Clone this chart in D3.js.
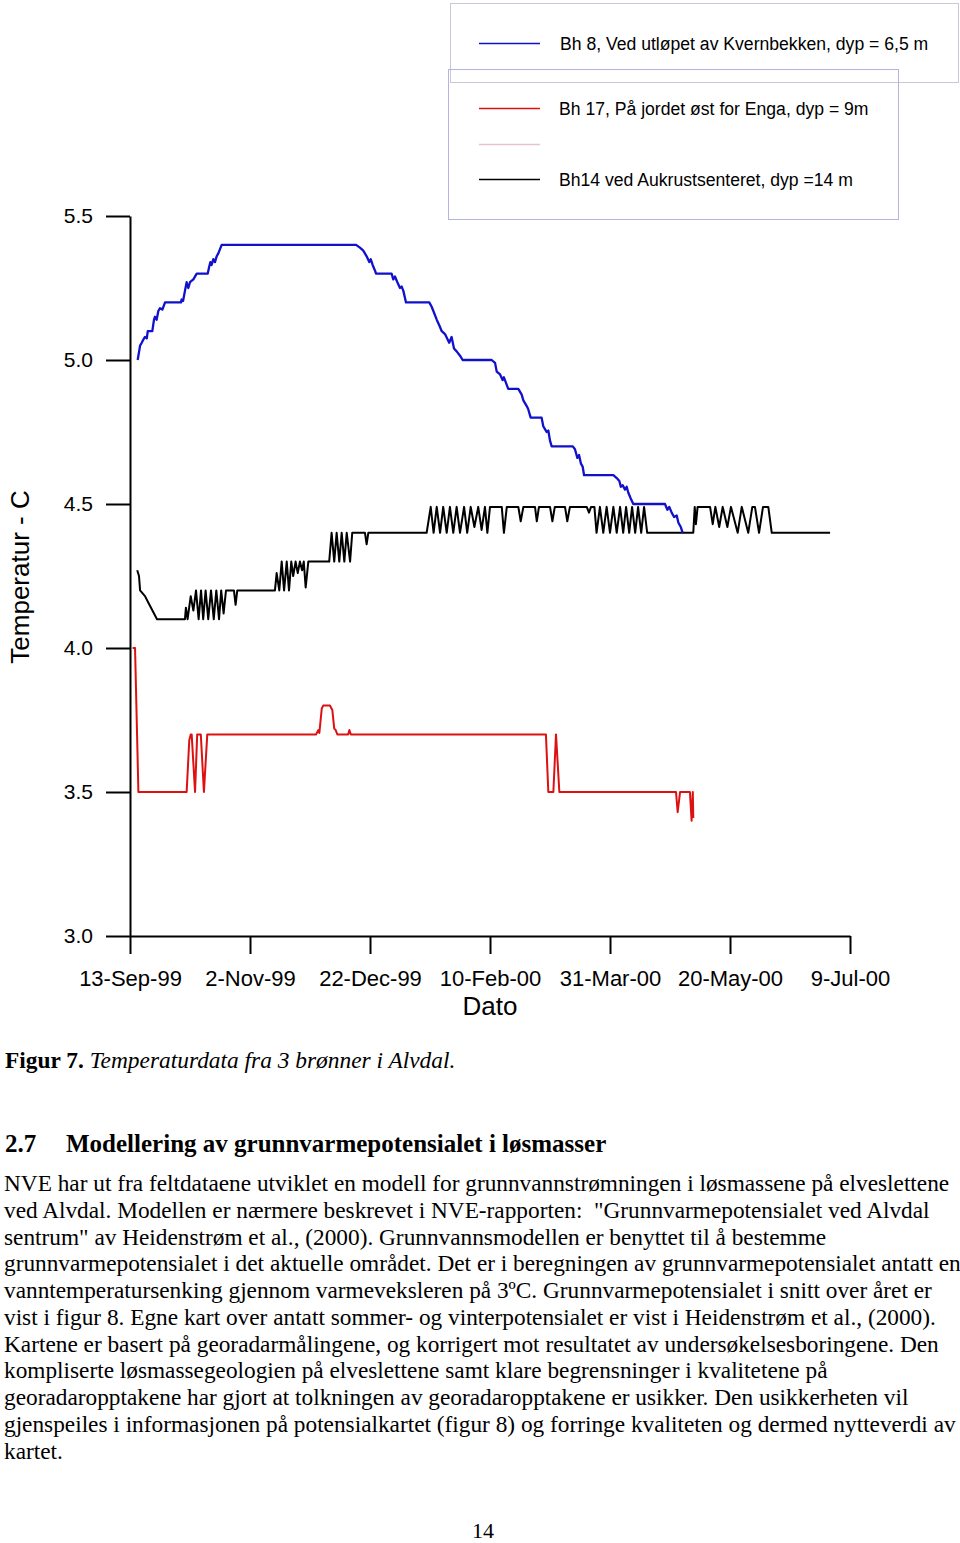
<!DOCTYPE html>
<html>
<head>
<meta charset="utf-8">
<script src="https://cdn.jsdelivr.net/npm/d3@7"></script>
<style>
  html, body { margin: 0; padding: 0; background: #fff; }
  svg { display: block; }
</style>
</head>
<body>
<svg id="chart" width="960" height="1543"></svg>
<script>
// ---------- DATA (day offset from 13-Sep-1999, temperature °C) ----------
const startDate = "1999-09-13";
const tickDates = ["1999-09-13", "1999-11-02", "1999-12-22", "2000-02-10", "2000-03-31", "2000-05-20", "2000-07-09"];
const yTicks = [3.0, 3.5, 4.0, 4.5, 5.0, 5.5];

const seriesNames = [
  "Bh 8, Ved utløpet av Kvernbekken, dyp = 6,5 m",
  "Bh 17, På jordet øst for Enga, dyp = 9m",
  "",
  "Bh14 ved Aukrustsenteret, dyp =14 m"
];

const bh8Days = [3.2,4.2,4.9,5.5,6.25,7.0,7.4,9.3,10.0,10.4,11.1,11.8,12.5,13.5,14.6,21.25,21.5,22.1,22.9,23.6,24.3,25.0,26.4,27.8,32.4,32.9,33.5,34.0,34.7,35.4,36.1,36.8,38.2,
  94.2,95.8,97.2,98.6,99.7,100.3,101.1,102.1,102.5,109.0,109.7,110.4,111.4,112.5,113.2,113.9,115.0,124.7,125.7,126.4,127.8,128.9,129.9,131.25,133.0,134.0,135.0,136.1,137.5,138.6,
  150.7,152.1,152.8,154.2,155.3,155.8,156.7,157.6,161.8,163.2,163.9,165.3,165.9,166.95,171.5,172.2,172.9,173.6,174.3,175.0,175.7,184.5,185.4,186.4,187.1,187.9,188.6,189.2,
  201.4,202.8,203.9,204.5,205.3,206.25,206.95,207.6,208.6,209.7,222.9,223.9,224.7,225.7,226.7,227.8,228.5,229.5,230.3];
const bh8Temp = [5.00,5.05,5.06,5.07,5.08,5.075,5.10,5.10,5.14,5.15,5.14,5.17,5.18,5.175,5.20,5.20,5.21,5.205,5.24,5.27,5.25,5.27,5.28,5.30,5.30,5.32,5.34,5.33,5.35,5.34,5.36,5.37,5.40,
  5.40,5.39,5.38,5.36,5.34,5.35,5.33,5.31,5.30,5.30,5.28,5.29,5.27,5.25,5.255,5.24,5.20,5.20,5.185,5.17,5.14,5.12,5.10,5.09,5.06,5.08,5.04,5.03,5.015,5.00,
  5.00,4.99,4.96,4.95,4.93,4.94,4.92,4.90,4.90,4.88,4.86,4.84,4.83,4.80,4.80,4.77,4.76,4.75,4.755,4.72,4.70,4.70,4.69,4.66,4.67,4.64,4.63,4.60,
  4.60,4.59,4.58,4.56,4.565,4.55,4.56,4.54,4.52,4.50,4.50,4.48,4.49,4.47,4.455,4.46,4.435,4.42,4.40];

const bh17Days = [1.1,2.1,3.5,23.6,24.7,25.3,25.7,27.1,28.0,29.5,30.8,32.2,77.5,78.5,78.9,79.9,80.5,83.3,84.3,85.1,85.7,86.4,90.9,91.4,92.0,
  173.3,174.3,176.4,177.5,178.9,227.5,228.2,229.2,233.3,234.0,234.5,234.7];
const bh17Temp = [4.00,4.00,3.50,3.50,3.68,3.70,3.70,3.50,3.70,3.70,3.50,3.70,3.70,3.715,3.705,3.79,3.80,3.80,3.785,3.72,3.715,3.70,3.70,3.715,3.70,
  3.70,3.50,3.50,3.70,3.50,3.50,3.43,3.50,3.50,3.40,3.50,3.41];

const bh14Days = [3.0,3.75,4.2,6.25,7.5,8.75,10.0,11.25,22.9,23.3,24.0,25.3,26.4,27.5,28.6,29.6,30.5,31.5,32.6,33.75,34.9,35.96,37.1,38.0,39.0,40.0,43.3,44.0,44.7,
  60.4,61.1,62.2,63.2,64.2,65.3,66.25,67.2,68.0,69.0,69.9,70.8,71.7,72.4,73.2,74.3,83.0,84.0,85.1,86.1,87.2,88.2,89.3,90.3,91.7,92.6,97.9,98.6,99.3,
  123.6,125.3,126.5,127.8,129.2,130.5,131.96,133.3,134.7,136.1,137.5,139.2,140.5,141.96,143.5,145.1,146.5,147.9,148.9,150.0,154.9,155.8,157.0,161.8,162.8,163.9,
  168.75,169.5,170.4,175.0,176.0,177.0,181.25,182.2,183.3,190.3,191.25,192.1,193.5,194.4,195.8,197.2,198.6,200.0,201.4,202.8,204.2,205.5,206.7,208.0,209.2,210.5,211.7,213.0,214.2,215.5,
  234.7,235.3,235.8,236.5,241.7,242.8,243.9,245.5,246.96,248.9,250.4,253.2,254.9,257.6,259.3,260.4,262.1,263.75,265.96,267.4,291.7];
const bh14Temp = [4.27,4.25,4.20,4.18,4.16,4.14,4.12,4.10,4.10,4.14,4.10,4.18,4.13,4.20,4.10,4.20,4.10,4.20,4.10,4.20,4.10,4.20,4.10,4.20,4.12,4.20,4.20,4.15,4.20,
  4.20,4.26,4.20,4.30,4.20,4.30,4.20,4.30,4.25,4.30,4.26,4.30,4.27,4.30,4.21,4.30,4.30,4.40,4.30,4.40,4.30,4.40,4.30,4.40,4.30,4.40,4.40,4.36,4.40,
  4.40,4.49,4.40,4.49,4.40,4.49,4.40,4.49,4.40,4.49,4.40,4.49,4.40,4.49,4.42,4.49,4.41,4.49,4.40,4.49,4.49,4.40,4.49,4.49,4.44,4.49,
  4.49,4.44,4.49,4.49,4.44,4.49,4.49,4.44,4.49,4.49,4.47,4.49,4.49,4.40,4.49,4.40,4.49,4.40,4.49,4.40,4.49,4.40,4.49,4.40,4.49,4.40,4.49,4.40,4.49,4.40,
  4.40,4.49,4.43,4.49,4.49,4.43,4.49,4.42,4.49,4.42,4.49,4.40,4.49,4.40,4.49,4.49,4.40,4.49,4.49,4.40,4.40];

const captionBold = "Figur 7.";
const captionItalic = "Temperaturdata fra 3 brønner i Alvdal.";
const headingNum = "2.7";
const headingText = "Modellering av grunnvarmepotensialet i løsmasser";
const bodyLines = [
  "NVE har ut fra feltdataene utviklet en modell for grunnvannstrømningen i løsmassene på elveslettene",
  "ved Alvdal. Modellen er nærmere beskrevet i NVE-rapporten:  \"Grunnvarmepotensialet ved Alvdal",
  "sentrum\" av Heidenstrøm et al., (2000). Grunnvannsmodellen er benyttet til å bestemme",
  "grunnvarmepotensialet i det aktuelle området. Det er i beregningen av grunnvarmepotensialet antatt en",
  "vanntemperatursenking gjennom varmeveksleren på 3ºC. Grunnvarmepotensialet i snitt over året er",
  "vist i figur 8. Egne kart over antatt sommer- og vinterpotensialet er vist i Heidenstrøm et al., (2000).",
  "Kartene er basert på georadarmålingene, og korrigert mot resultatet av undersøkelsesboringene. Den",
  "kompliserte løsmassegeologien på elveslettene samt klare begrensninger i kvalitetene på",
  "georadaropptakene har gjort at tolkningen av georadaropptakene er usikker. Den usikkerheten vil",
  "gjenspeiles i informasjonen på potensialkartet (figur 8) og forringe kvaliteten og dermed nytteverdi av",
  "kartet."
];
const pageNumber = "14";

// ---------- DRAWING ----------
const svg = d3.select("#chart");
const parse = d3.utcParse("%Y-%m-%d");
const t0 = parse(startDate);
const toDate = d => new Date(t0.getTime() + d * 864e5);

const x = d3.scaleUtc().domain([parse(tickDates[0]), parse(tickDates[tickDates.length - 1])]).range([130, 850]);
const y = d3.scaleLinear().domain([3.0, 5.5]).range([936, 216]);

const sans = "'Liberation Sans', Arial, sans-serif";
const serif = "'Liberation Serif', 'Times New Roman', serif";

// Y axis
const yAxis = svg.append("g").attr("transform", "translate(130,0)")
  .call(d3.axisLeft(y).tickValues(yTicks).tickFormat(d3.format(".1f")).tickSize(24).tickPadding(13).tickSizeOuter(0));
yAxis.select(".domain").attr("stroke", "#000").attr("stroke-width", 2);
yAxis.selectAll(".tick line").attr("stroke", "#000").attr("stroke-width", 2);
yAxis.selectAll(".tick text").attr("font-family", sans).attr("font-size", 21).attr("fill", "#000");

// X axis
const xAxis = svg.append("g").attr("transform", "translate(0,936)")
  .call(d3.axisBottom(x).tickValues(tickDates.map(parse)).tickFormat(d3.utcFormat("%-d-%b-%y")).tickSize(18).tickPadding(16).tickSizeOuter(0));
xAxis.select(".domain").attr("stroke", "#000").attr("stroke-width", 2);
xAxis.selectAll(".tick line").attr("stroke", "#000").attr("stroke-width", 2);
xAxis.selectAll(".tick text").attr("font-family", sans).attr("font-size", 22).attr("fill", "#000");

// Axis titles
svg.append("text").attr("x", 490).attr("y", 1015).attr("text-anchor", "middle")
  .attr("font-family", sans).attr("font-size", 26).text("Dato");
svg.append("text").attr("transform", "translate(29,577) rotate(-90)").attr("text-anchor", "middle")
  .attr("font-family", sans).attr("font-size", 26).text("Temperatur - C");

// Lines
const line = d3.line().x(d => x(toDate(d[0]))).y(d => y(d[1]));
const series = [
  { days: bh14Days, temp: bh14Temp, color: "#000000", w: 2 },
  { days: bh17Days, temp: bh17Temp, color: "#dd1111", w: 2 },
  { days: bh8Days, temp: bh8Temp, color: "#1111cc", w: 2.3 }
];
series.forEach(s => {
  svg.append("path").datum(d3.zip(s.days, s.temp))
    .attr("fill", "none").attr("stroke", s.color).attr("stroke-width", s.w)
    .attr("stroke-linejoin", "round").attr("d", line);
});

// Legend boxes
svg.append("rect").attr("x", 450.5).attr("y", 3.5).attr("width", 508).attr("height", 79)
  .attr("fill", "none").attr("stroke", "#c9c9d6").attr("stroke-width", 1);
svg.append("rect").attr("x", 448.5).attr("y", 69.5).attr("width", 450).attr("height", 150)
  .attr("fill", "none").attr("stroke", "#b4b4e2").attr("stroke-width", 1);

const legendItems = [
  { name: seriesNames[0], color: "#1111cc", y: 43.5, tx: 560 },
  { name: seriesNames[1], color: "#dd1111", y: 108.5, tx: 559 },
  { name: seriesNames[2], color: "#e6c4cc", y: 144.5, tx: 559 },
  { name: seriesNames[3], color: "#000000", y: 179.5, tx: 559 }
];
legendItems.forEach(it => {
  svg.append("line").attr("x1", 479).attr("x2", 540).attr("y1", it.y).attr("y2", it.y)
    .attr("stroke", it.color).attr("stroke-width", 1.5);
  if (it.name) {
    svg.append("text").attr("x", it.tx).attr("y", it.y + 6).attr("font-family", sans)
      .attr("font-size", 17.6).attr("fill", "#000").text(it.name);
  }
});

// Caption
const cap = svg.append("text").attr("x", 5).attr("y", 1068).attr("font-family", serif).attr("font-size", 23.4);
cap.append("tspan").attr("font-weight", "bold").text(captionBold);
cap.append("tspan").attr("font-style", "italic").text(" " + captionItalic);

// Heading
svg.append("text").attr("x", 5).attr("y", 1152).attr("font-family", serif).attr("font-size", 25)
  .attr("font-weight", "bold").text(headingNum);
svg.append("text").attr("x", 66).attr("y", 1152).attr("font-family", serif).attr("font-size", 25)
  .attr("font-weight", "bold").text(headingText);

// Body text
svg.append("g").selectAll("text").data(bodyLines).join("text")
  .attr("x", 4).attr("y", (d, i) => 1191 + i * 26.75)
  .attr("font-family", serif).attr("font-size", 23.3).attr("fill", "#000")
  .style("white-space", "pre").text(d => d);

// Page number
svg.append("text").attr("x", 483).attr("y", 1538).attr("text-anchor", "middle")
  .attr("font-family", serif).attr("font-size", 22).text(pageNumber);
</script>
</body>
</html>
